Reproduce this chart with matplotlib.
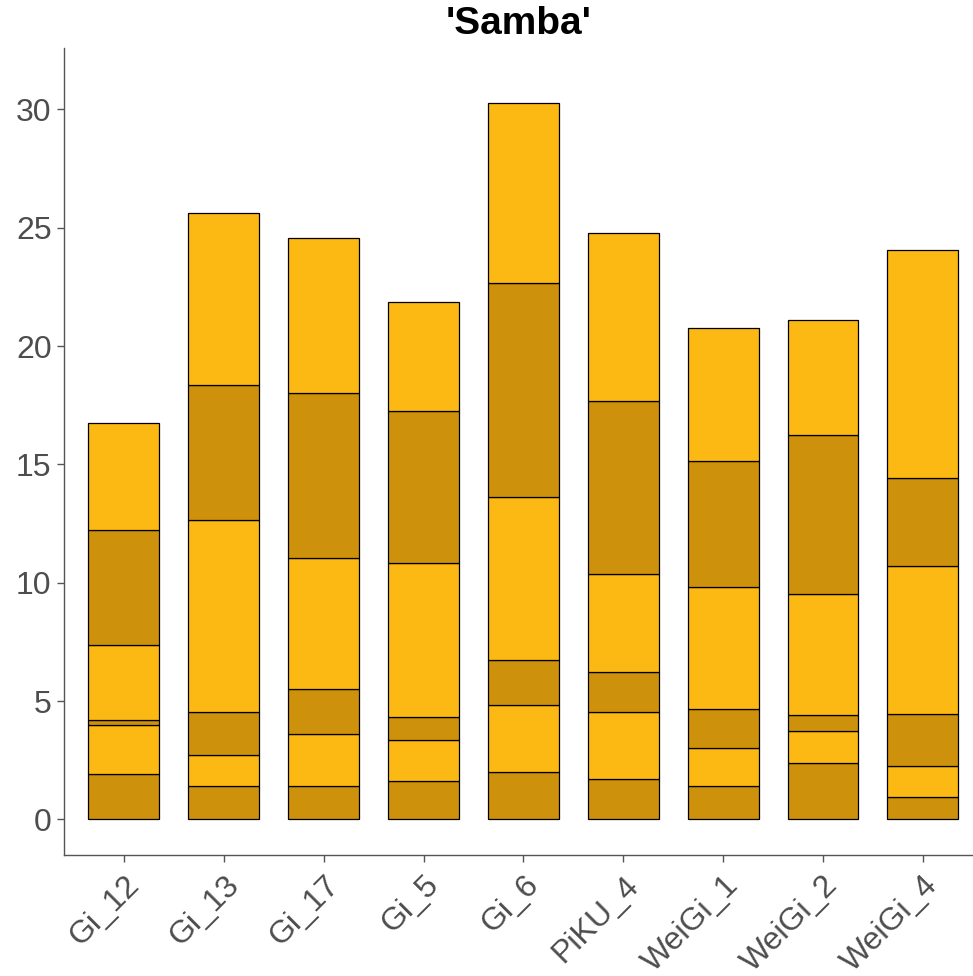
import numpy as np
import matplotlib.pyplot as plt

plt.rcParams['font.family'] = ['Liberation Sans', 'DejaVu Sans']

samples = ["Gi_12", "Gi_13", "Gi_17", "Gi_5", "Gi_6",
           "PiKU_4", "WeiGi_1", "WeiGi_2", "WeiGi_4"]

# stacked components, bottom to top
layer1 = [1.93, 1.41, 1.41, 1.62, 2.01, 1.72, 1.41, 2.39, 0.93]
layer2 = [2.08, 1.31, 2.21, 1.73, 2.81, 2.83, 1.62, 1.33, 1.32]
layer3 = [0.21, 1.83, 1.90, 0.99, 1.91, 1.67, 1.65, 0.70, 2.19]
layer4 = [3.17, 8.10, 5.51, 6.48, 6.90, 4.13, 5.13, 5.10, 6.28]
layer5 = [4.83, 5.69, 7.00, 6.42, 9.04, 7.31, 5.34, 6.73, 3.69]
layer6 = [4.51, 7.30, 6.52, 4.62, 7.58, 7.10, 5.63, 4.87, 9.63]

layers = [layer1, layer2, layer3, layer4, layer5, layer6]
dark = "#CD910B"
light = "#FDB913"

fig = plt.figure(figsize=(9.73, 9.76), dpi=100)
ax = fig.add_axes([0.0658, 0.124, 0.934, 0.827])

x = np.arange(1, len(samples) + 1)
bottom = np.zeros(len(samples))
for i, vals in enumerate(layers):
    vals = np.array(vals)
    ax.bar(x, vals, width=0.71, bottom=bottom,
           color=dark if i % 2 == 0 else light,
           edgecolor="black", linewidth=0.9)
    bottom += vals

ax.set_xlim(0.4, 9.5)
ax.set_ylim(-1.5, 32.6)
ax.set_xticks(x)
ax.set_xticklabels(samples, rotation=45, ha="right", rotation_mode="anchor")
ax.set_yticks([0, 5, 10, 15, 20, 25, 30])

for side in ["top", "right"]:
    ax.spines[side].set_visible(False)
for side in ["left", "bottom"]:
    ax.spines[side].set_color("#555555")
    ax.spines[side].set_linewidth(1.0)

ax.tick_params(axis="both", colors="#555555", labelcolor="#4D4D4D",
               labelsize=23, length=5, width=1.0)
ax.tick_params(axis="x", pad=6)
ax.tick_params(axis="y", pad=4)

ax.set_title("'Samba'", fontsize=28, fontweight="bold", pad=10)

fig.savefig("out.png", dpi=100)
